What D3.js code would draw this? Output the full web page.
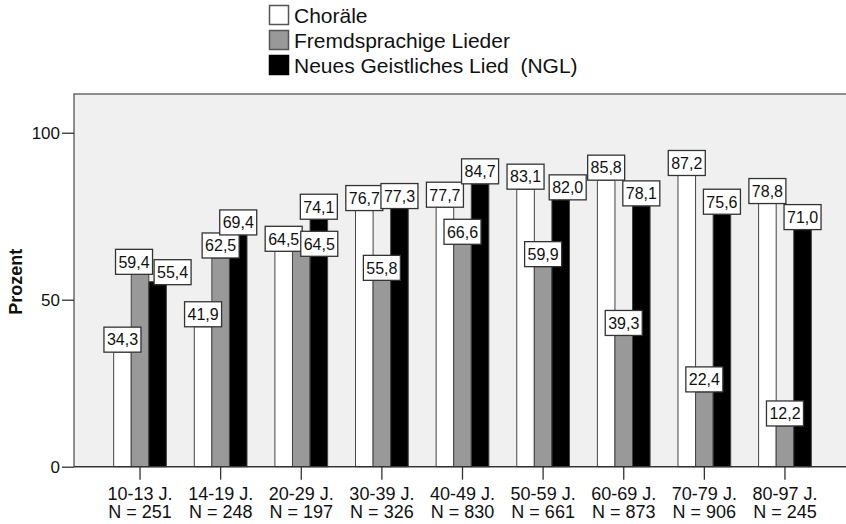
<!DOCTYPE html>
<html>
<head>
<meta charset="utf-8">
<script src="https://cdn.jsdelivr.net/npm/d3@7"></script>
<style>
  html, body { margin: 0; padding: 0; background: #ffffff; }
  svg { display: block; font-family: "Liberation Sans", Arial, sans-serif; }
</style>
</head>
<body>
<svg id="chart" width="846" height="524"></svg>
<script>
// Age groups and sample sizes
const categories = ["10-13 J.", "14-19 J.", "20-29 J.", "30-39 J.", "40-49 J.", "50-59 J.", "60-69 J.", "70-79 J.", "80-97 J."];
const sampleSizes = [251, 248, 197, 326, 830, 661, 873, 906, 245];

// Share (percent) per song type
const seriesNames = ["Choräle", "Fremdsprachige Lieder", "Neues Geistliches Lied  (NGL)"];
const chorale = [34.3, 41.9, 64.5, 76.7, 77.7, 83.1, 85.8, 87.2, 78.8];
const fremdsprachig = [59.4, 62.5, 64.5, 55.8, 66.6, 59.9, 39.3, 22.4, 12.2];
const ngl = [55.4, 69.4, 74.1, 77.3, 84.7, 82.0, 78.1, 75.6, 71.0];

const yTicks = [0, 50, 100];

// Rendering
const seriesValues = [chorale, fremdsprachig, ngl];
const fills = ["#ffffff", "#999999", "#000000"];

// Label offsets where value labels would collide
const labelNudge = {
  "0|1": [-6, 6],
  "0|2": [15, 3],
  "2|1": [18, 5],
  "5|2": [7, 7]
};

const svg = d3.select("#chart");
const plot = { left: 74, right: 851, top: 94, bottom: 466.7 };

const x = d3.scaleBand()
  .domain(categories)
  .range([plot.left, plot.right])
  .paddingInner(0.346)
  .paddingOuter(0.492);

const xs = d3.scaleBand()
  .domain(d3.range(seriesNames.length))
  .range([0, x.bandwidth()]);

const y = d3.scaleLinear()
  .domain([0, 111.6])
  .range([plot.bottom, plot.top]);

const locale = d3.formatLocale({ decimal: ",", thousands: ".", grouping: [3], currency: ["", " €"] });
const fmt = locale.format(".1f");

// plot background
svg.append("rect")
  .attr("x", plot.left).attr("y", plot.top)
  .attr("width", plot.right - plot.left).attr("height", plot.bottom - plot.top)
  .attr("fill", "#f0f0f0")
  .attr("stroke", "#555").attr("stroke-width", 1.3);

// bars
const rows = [];
categories.forEach((c, i) => {
  seriesValues.forEach((vals, s) => rows.push({ c, i, s, v: vals[i] }));
});

svg.append("g").selectAll("rect")
  .data(rows)
  .join("rect")
  .attr("x", d => x(d.c) + xs(d.s))
  .attr("y", d => y(d.v))
  .attr("width", xs.bandwidth())
  .attr("height", d => y(0) - y(d.v))
  .attr("fill", d => fills[d.s])
  .attr("stroke", "#444")
  .attr("stroke-width", 1);

// zero baseline
svg.append("line")
  .attr("x1", plot.left).attr("x2", plot.right)
  .attr("y1", y(0)).attr("y2", y(0))
  .attr("stroke", "#333").attr("stroke-width", 1.3);

// y axis
const yAxis = svg.append("g")
  .attr("transform", `translate(${plot.left},0)`)
  .call(d3.axisLeft(y).tickValues(yTicks).tickSize(12).tickPadding(2).tickFormat(d3.format("d")));
yAxis.select(".domain").remove();
yAxis.selectAll(".tick line").attr("stroke", "#333").attr("stroke-width", 1.3);
yAxis.selectAll(".tick text")
  .attr("font-size", 17).attr("fill", "#111")
  .attr("font-family", "'Liberation Sans', Arial, sans-serif");

svg.append("text")
  .attr("transform", `translate(22,${(y(0) + y(100)) / 2 - 18}) rotate(-90)`)
  .attr("text-anchor", "middle")
  .attr("font-size", 18).attr("font-weight", "bold").attr("fill", "#111")
  .text("Prozent");

// x axis
const xAxis = svg.append("g")
  .attr("transform", `translate(0,${plot.bottom})`)
  .call(d3.axisBottom(x).tickSize(13).tickFormat(""));
xAxis.select(".domain").remove();
xAxis.selectAll(".tick line").attr("stroke", "#333").attr("stroke-width", 1.3);
xAxis.selectAll(".tick").each(function (c) {
  const t = d3.select(this).append("text")
    .attr("text-anchor", "middle")
    .attr("font-size", 18).attr("fill", "#111")
    .attr("font-family", "'Liberation Sans', Arial, sans-serif");
  t.append("tspan").attr("x", 0).attr("y", 33).text(c);
  t.append("tspan").attr("x", 0).attr("y", 51).text(`N = ${sampleSizes[categories.indexOf(c)]}`);
});

// value labels
const boxW = 37, boxH = 25;
const labels = svg.append("g").selectAll("g")
  .data(rows)
  .join("g")
  .attr("transform", d => {
    const n = labelNudge[`${d.i}|${d.s}`] || [0, 0];
    const cx = x(d.c) + xs(d.s) + xs.bandwidth() / 2 + n[0];
    const bottom = y(d.v) + n[1];
    return `translate(${cx},${bottom - boxH / 2})`;
  });
labels.append("rect")
  .attr("x", -boxW / 2).attr("y", -boxH / 2)
  .attr("width", boxW).attr("height", boxH)
  .attr("fill", "#fff").attr("stroke", "#333").attr("stroke-width", 1.3);
labels.append("text")
  .attr("text-anchor", "middle")
  .attr("y", 5.8)
  .attr("font-size", 16).attr("fill", "#111")
  .text(d => fmt(d.v));

// legend
const legend = svg.append("g").attr("transform", "translate(269,5)");
const li = legend.selectAll("g").data(seriesNames).join("g")
  .attr("transform", (d, i) => `translate(0,${i * 25})`);
li.append("rect")
  .attr("x", 0.5).attr("y", 0.5).attr("width", 19).attr("height", 19)
  .attr("fill", (d, i) => fills[i])
  .attr("stroke", (d, i) => i === 2 ? "#000" : "#555")
  .attr("stroke-width", 1.5);
li.append("text")
  .attr("x", 25).attr("y", 17.5)
  .attr("font-size", 21).attr("fill", "#111")
  .style("white-space", "pre")
  .text(d => d);
</script>
</body>
</html>
